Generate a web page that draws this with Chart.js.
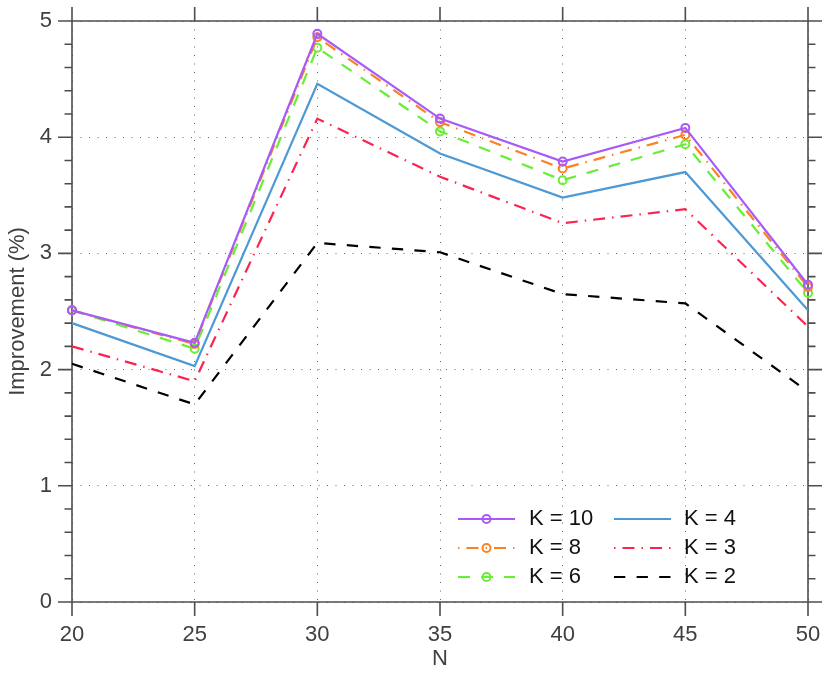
<!DOCTYPE html>
<html>
<head>
<meta charset="utf-8">
<script src="https://cdn.jsdelivr.net/npm/chart.js@4"></script>
<style>
html, body { margin: 0; padding: 0; background: #fff; }
canvas { display: block; }
</style>
</head>
<body>
<canvas id="chart" width="830" height="677"></canvas>
<script>
// data
const N = [20, 25, 30, 35, 40, 45, 50];
const k10 = [2.51, 2.23, 4.89, 4.16, 3.79, 4.08, 2.73];
const k8  = [2.51, 2.22, 4.86, 4.13, 3.73, 4.02, 2.71];
const k6  = [2.51, 2.18, 4.77, 4.05, 3.63, 3.94, 2.66];
const k4  = [2.40, 2.03, 4.46, 3.86, 3.48, 3.70, 2.51];
const k3  = [2.20, 1.90, 4.16, 3.66, 3.26, 3.38, 2.37];
const k2  = [2.05, 1.70, 3.09, 3.01, 2.65, 2.57, 1.81];

const seriesLabels = ['K = 10', 'K = 8', 'K = 6', 'K = 4', 'K = 3', 'K = 2'];
const xTicks = [20, 25, 30, 35, 40, 45, 50];
const yTicks = [0, 1, 2, 3, 4, 5];

const FONT = '"Liberation Sans", Arial, Helvetica, sans-serif';
const AXIS = '#4d4d4d';

const styles = [
  { color: '#a75af5', dash: [], marker: true },
  { color: '#fc8024', dash: [12, 7, 1.5, 7], marker: true },
  { color: '#69ee36', dash: [12, 11], marker: true },
  { color: '#4c99d6', dash: [], marker: false },
  { color: '#fa2450', dash: [12, 7, 1.5, 7], marker: false },
  { color: '#000000', dash: [11.3, 11.3], marker: false }
];

const allSeries = [k10, k8, k6, k4, k3, k2];

const datasets = allSeries.map(function(vals, i) {
  const s = styles[i];
  return {
    label: seriesLabels[i],
    data: N.map(function(n, j) { return { x: n, y: vals[j] }; }),
    borderColor: s.color,
    backgroundColor: s.color,
    borderWidth: 2.2,
    borderDash: s.dash,
    tension: 0,
    fill: false,
    clip: false,
    pointRadius: s.marker ? 4 : 0,
    pointHoverRadius: s.marker ? 4 : 0,
    pointBorderWidth: 2,
    pointBorderColor: s.color,
    pointBackgroundColor: 'rgba(255,255,255,0)',
    pointStyle: 'circle'
  };
});

// no extra label padding, the box is placed by layout.padding
function noPad(scale) {
  scale.paddingTop = 0;
  scale.paddingBottom = 0;
  scale.paddingLeft = 0;
  scale.paddingRight = 0;
}

// axes box with outward ticks on all four sides
const framePlugin = {
  id: 'frame',
  beforeDatasetsDraw(chart) {
    const ctx = chart.ctx;
    const a = chart.chartArea;
    const x = chart.scales.x, y = chart.scales.y;
    ctx.save();
    ctx.setLineDash([]);
    ctx.strokeStyle = AXIS;
    ctx.lineWidth = 1.6;
    ctx.beginPath();
    ctx.rect(a.left, a.top, a.right - a.left, a.bottom - a.top);
    xTicks.forEach(function(v) {
      const px = x.getPixelForValue(v);
      ctx.moveTo(px, a.bottom); ctx.lineTo(px, a.bottom + 14);
      ctx.moveTo(px, a.top); ctx.lineTo(px, a.top - 14);
    });
    for (let i = 0; i < yTicks.length - 1; i++) {
      for (let m = 0; m < 5; m++) {
        const v = yTicks[i] + (yTicks[i + 1] - yTicks[i]) * m / 5;
        const py = y.getPixelForValue(v);
        const len = m === 0 ? 14 : 7.5;
        ctx.moveTo(a.left, py); ctx.lineTo(a.left - len, py);
        ctx.moveTo(a.right, py); ctx.lineTo(a.right + len, py);
      }
    }
    const pt = y.getPixelForValue(yTicks[yTicks.length - 1]);
    ctx.moveTo(a.left, pt); ctx.lineTo(a.left - 14, pt);
    ctx.moveTo(a.right, pt); ctx.lineTo(a.right + 14, pt);
    ctx.stroke();
    ctx.restore();
  }
};

// two-column legend box in the lower right
const legendPlugin = {
  id: 'boxLegend',
  afterDraw(chart) {
    const ctx = chart.ctx;
    const cols = [{ x0: 458, x1: 515, tx: 529 }, { x0: 614, x1: 671, tx: 684 }];
    const rows = [519, 548, 577];
    chart.data.datasets.forEach(function(ds, i) {
      const c = cols[Math.floor(i / 3)];
      const yy = rows[i % 3];
      ctx.save();
      ctx.strokeStyle = ds.borderColor;
      ctx.lineWidth = ds.borderWidth;
      ctx.setLineDash(ds.borderDash);
      ctx.lineDashOffset = ds.borderDash.length === 4 ? 19 : 0;
      ctx.beginPath();
      ctx.moveTo(c.x0, yy); ctx.lineTo(c.x1, yy);
      ctx.stroke();
      if (ds.pointRadius > 0) {
        ctx.setLineDash([]);
        ctx.lineWidth = ds.pointBorderWidth;
        ctx.beginPath();
        ctx.arc((c.x0 + c.x1) / 2, yy, ds.pointRadius, 0, Math.PI * 2);
        ctx.stroke();
      }
      ctx.fillStyle = '#111';
      ctx.font = '22px ' + FONT;
      ctx.textBaseline = 'middle';
      ctx.textAlign = 'left';
      ctx.fillText(ds.label, c.tx, yy);
      ctx.restore();
    });
  }
};

const config = {
  type: 'line',
  data: { datasets: datasets },
  options: {
    responsive: false,
    animation: false,
    devicePixelRatio: 1,
    layout: { padding: { top: 21, right: 22, left: 0, bottom: 0 } },
    plugins: {
      legend: { display: false },
      tooltip: { enabled: false },
      title: { display: false }
    },
    scales: {
      x: {
        type: 'linear',
        min: 20,
        max: 50,
        afterFit: function(scale) { scale.height = 75; noPad(scale); },
        afterBuildTicks: function(scale) {
          scale.ticks = xTicks.map(function(v) { return { value: v }; });
        },
        ticks: {
          color: '#404040',
          font: { family: FONT, size: 22 },
          padding: 20,
          maxRotation: 0,
          autoSkip: false
        },
        grid: {
          color: '#666',
          lineWidth: 1,
          drawTicks: false
        },
        border: { display: false, dash: [1, 7.5] },
        title: {
          display: true,
          text: 'N',
          color: '#404040',
          font: { family: FONT, size: 22 },
          padding: { top: 0, bottom: 5 }
        }
      },
      y: {
        type: 'linear',
        min: 0,
        max: 5,
        afterFit: function(scale) { scale.width = 72; noPad(scale); },
        afterBuildTicks: function(scale) {
          scale.ticks = yTicks.map(function(v) { return { value: v }; });
        },
        ticks: {
          color: '#404040',
          font: { family: FONT, size: 22 },
          padding: 20
        },
        grid: {
          color: '#666',
          lineWidth: 1,
          drawTicks: false
        },
        border: { display: false, dash: [1, 7.5] },
        title: {
          display: true,
          text: 'Improvement (%)',
          color: '#404040',
          font: { family: FONT, size: 22 },
          padding: { top: 5, bottom: 0 }
        }
      }
    }
  },
  plugins: [framePlugin, legendPlugin]
};

const chart = new Chart(document.getElementById('chart').getContext('2d'), config);
</script>
</body>
</html>
